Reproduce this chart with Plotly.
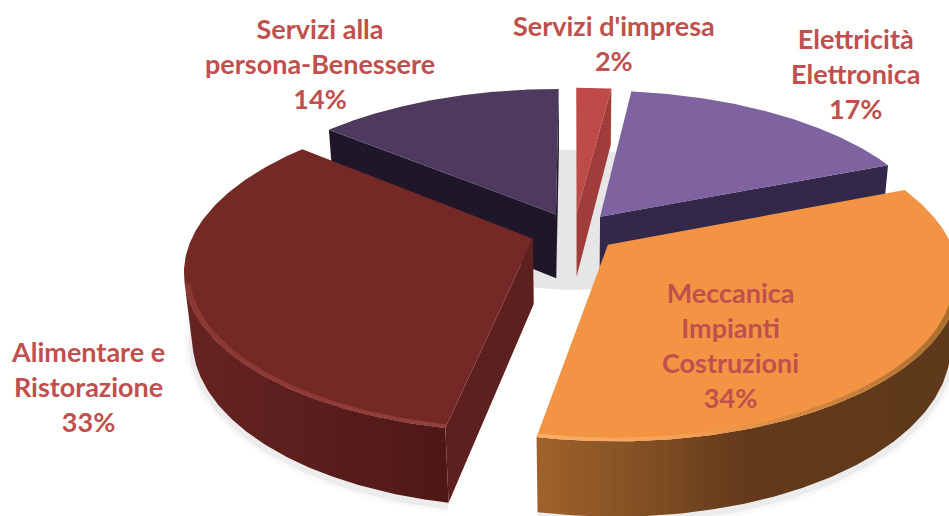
import numpy as np
import plotly.graph_objects as go

categories = ["Servizi d'impresa", "Elettricità<br>Elettronica", "Meccanica<br>Impianti<br>Costruzioni",
              "Alimentare e<br>Ristorazione", "Servizi alla<br>persona-Benessere"]
values = [2, 17, 34, 33, 14]
top_colors = ["#BE4B48", "#7F62A0", "#F29444", "#752927", "#4E3A5E"]
wall_scale = [
    [[0, "#9C3E3B"], [1, "#9C3E3B"]],
    [[0, "#33274A"], [1, "#33274A"]],
    [[0, "#A0622A"], [0.3, "#7C4C22"], [0.5, "#62391B"], [1, "#5E3A1A"]],
    [[0, "#662422"], [1, "#4E1816"]],
    [[0, "#1F1629"], [1, "#241A33"]],
]
rim_scale = [
    None,
    None,
    [[0, "#FBAE66"], [0.35, "#F6A055"], [0.6, "#D98A42"], [1, "#A86C2E"]],
    [[0, "#8A3733"], [1, "#93403C"]],
    None,
]
cut_colors = ["#A03C3A", "#33274A", "#6E4420", "#5E201E", "#1F1629"]
label_x = [614, 855, 730, 88, 320]
label_y = [43, 73, 345, 386, 63]
draw_order = [4, 0, 1, 3, 2]

EXPLODE, HEIGHT, RIM = 0.128, 0.22, 0.985
ELEV, DIST, FOCAL = np.deg2rad(27.2), 4.8, 1625
CX, CY = 574, 232
W, H = 949, 516


def project(x, y, z):
    s, c = np.sin(ELEV), np.cos(ELEV)
    depth = DIST + y * c - z * s
    return CX + FOCAL * x / depth, CY - FOCAL * (y * s + z * c) / depth


def poly(x, y, z, **kw):
    sx, sy = project(np.asarray(x, float), np.asarray(y, float), np.asarray(z, float))
    return go.Scatter(x=sx, y=sy, mode="lines", line=dict(width=0), fill="toself", hoverinfo="skip", **kw)


def add_slice(fig, n, a0, a1):
    mid = (a0 + a1) / 2
    ox, oy = EXPLODE * np.sin(mid), EXPLODE * np.cos(mid)
    th = np.linspace(a0, a1, 181)
    xs, ys = ox + np.sin(th), oy + np.cos(th)
    eye = np.array([0, -DIST * np.cos(ELEV)])
    # outer wall, only where it faces the camera
    vis = np.sin(th) * (eye[0] - xs) + np.cos(th) * (eye[1] - ys) > 0
    if vis.any():
        vx, vy = xs[vis], ys[vis]
        gx = np.r_[vx, vx[::-1]]
        gy = np.r_[vy, vy[::-1]]
        gz = np.r_[np.zeros(vx.size), np.full(vx.size, -HEIGHT)]
        fig.add_trace(poly(gx, gy, gz, fillcolor=wall_scale[n][0][1],
                           fillgradient=dict(type="horizontal", colorscale=wall_scale[n])))
    # cut faces, only where they face the camera
    for a, sign in ((a0, -1), (a1, 1)):
        nx, ny = sign * np.cos(a), -sign * np.sin(a)
        if nx * (eye[0] - ox) + ny * (eye[1] - oy) > 0:
            ex, ey = ox + np.sin(a), oy + np.cos(a)
            fig.add_trace(poly([ox, ex, ex, ox], [oy, ey, ey, oy], [0, 0, -HEIGHT, -HEIGHT],
                               fillcolor=cut_colors[n]))
    # top face
    fig.add_trace(poly(np.r_[ox, xs], np.r_[oy, ys], np.zeros(xs.size + 1), fillcolor=top_colors[n]))
    # bevel highlight along the near rim
    if rim_scale[n] is not None and vis.any():
        rx, ry = ox + RIM * np.sin(th[vis]), oy + RIM * np.cos(th[vis])
        vx, vy = xs[vis], ys[vis]
        fig.add_trace(poly(np.r_[vx, rx[::-1]], np.r_[vy, ry[::-1]], np.zeros(2 * vx.size),
                           fillcolor=rim_scale[n][0][1],
                           fillgradient=dict(type="horizontal", colorscale=rim_scale[n])))


edges = np.deg2rad(np.cumsum([0] + values) / sum(values) * 360)
fig = go.Figure()

# soft ground shadow seen through the gaps
ang = np.linspace(0, 2 * np.pi, 121)
fig.add_trace(poly(0.47 * np.sin(ang), 0.47 * np.cos(ang) + 0.12, np.zeros(ang.size), fillcolor="#E6E6E6"))
# soft shadow under the two near slices
for n in (2, 3):
    a0, a1 = edges[n], edges[n + 1]
    m = (a0 + a1) / 2
    th = np.linspace(a0, a1, 121)
    th = th[np.cos(th) < 0.3]
    ox, oy = EXPLODE * np.sin(m), EXPLODE * np.cos(m)
    sx, sy = project(ox + np.sin(th), oy + np.cos(th), np.full(th.size, -HEIGHT))
    for w, col in ((16, "rgba(0,0,0,0.025)"), (8, "rgba(0,0,0,0.05)")):
        fig.add_trace(go.Scatter(x=sx, y=sy + 3, mode="lines", line=dict(width=w, color=col), hoverinfo="skip"))

for n in draw_order:
    add_slice(fig, n, edges[n], edges[n + 1])

fig.update_layout(
    width=W, height=H, margin=dict(l=0, r=0, t=0, b=0), paper_bgcolor="white", plot_bgcolor="white",
    showlegend=False,
    xaxis=dict(visible=False, range=[0, W], fixedrange=True),
    yaxis=dict(visible=False, range=[H, 0], fixedrange=True),
)
for n, c in enumerate(categories):
    fig.add_annotation(text=f"{c}<br>{values[n]}%", x=label_x[n], y=label_y[n], xref="x", yref="y",
                       xanchor="center", yanchor="middle", showarrow=False, align="center",
                       font=dict(family="Lato", size=27, color="#C0504D", weight="bold"))
fig.write_html("out.html", config=dict(displayModeBar=False),
               post_script="document.body.style.margin='0';document.documentElement.style.overflow='hidden';")
